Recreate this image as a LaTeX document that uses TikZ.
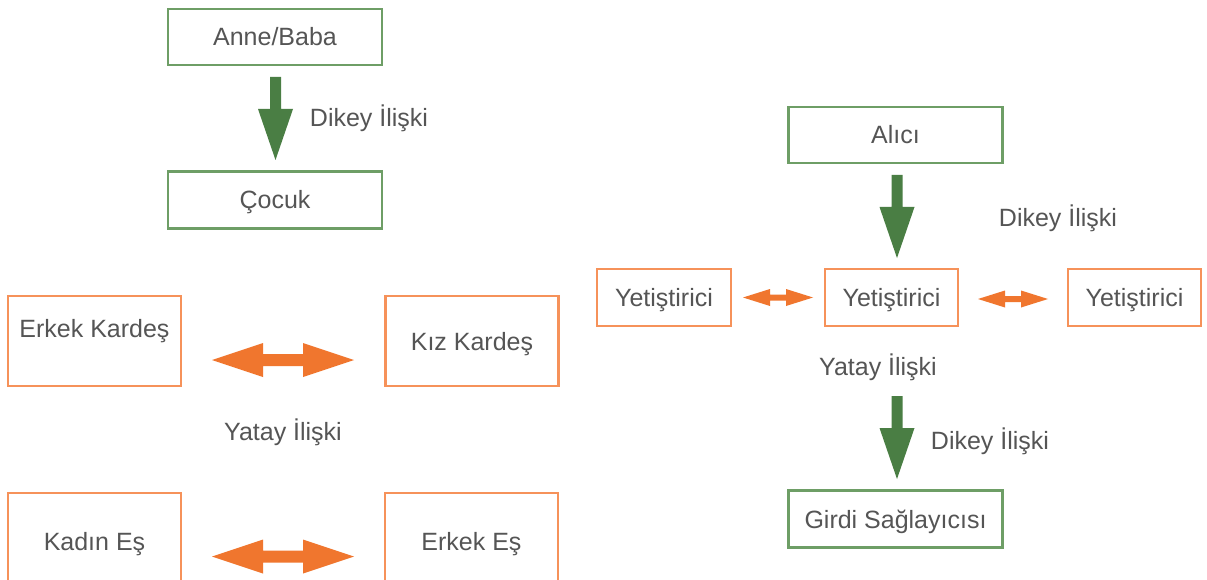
\documentclass[tikz,border=0pt]{standalone}
\usepackage{fontspec}
\setmainfont{Liberation Sans}
\definecolor{gline}{HTML}{6E9E66}
\definecolor{garr}{HTML}{4A7E44}
\definecolor{oline}{HTML}{F6925A}
\definecolor{oarr}{HTML}{F0762E}
\definecolor{txt}{HTML}{555555}
\newcommand\greenarrow[2]{% x, ytop
  \fill[garr] ({#1-5.5},{#2}) -- ({#1+5.5},{#2}) -- ({#1+5.5},{#2+32}) -- ({#1+17.5},{#2+32})
    -- ({#1},{#2+83}) -- ({#1-17.5},{#2+32}) -- ({#1-5.5},{#2+32}) -- cycle;}
\newcommand\orangearrow[6]{% x1, x2, y, headlen, headhalf, shafthalf
  \fill[oarr] ({#1},{#3}) -- ({#1+#4},{#3-#5}) -- ({#1+#4},{#3-#6}) -- ({#2-#4},{#3-#6})
    -- ({#2-#4},{#3-#5}) -- ({#2},{#3}) -- ({#2-#4},{#3+#5}) -- ({#2-#4},{#3+#6})
    -- ({#1+#4},{#3+#6}) -- ({#1+#4},{#3+#5}) -- cycle;}
\begin{document}
\begin{tikzpicture}[x=1pt,y=-1pt,
  every node/.style={font=\fontsize{25}{29}\selectfont, text=txt},
  tx/.style={text height=18pt, text depth=0pt},
  gbox/.style={tx, draw=gline, line width=2.5pt, rectangle, minimum width=214pt, minimum height=56pt, inner sep=0pt},
  obox/.style={tx, draw=oline, line width=2.5pt, rectangle, inner sep=0pt},
  lbl/.style={tx, inner sep=0pt}]
\clip (0,0) rectangle (1207,580);
\fill[white] (0,0) rectangle (1207,580);
% left top
\node[gbox] (ab) at (275,37) {Anne/Baba};
\node[gbox, minimum height=57pt] (coc) at (275,200) {Çocuk};
\greenarrow{275.5}{77}
\node[lbl] (d1) at (369,118) {Dikey İlişki};
% left siblings
\node[obox, minimum width=173pt, minimum height=90pt] (ek) at (94.5,341) {};
\node[lbl] (ekt) at (94.5,328) {Erkek Kardeş};
\node[obox, minimum width=173pt, minimum height=90pt] (kk) at (472,341) {Kız Kardeş};
\orangearrow{212}{354}{360}{51}{17}{6}
\node[lbl] (y1) at (283,431) {Yatay İlişki};
\node[obox, minimum width=173pt, minimum height=97pt] (ke) at (94.5,541.5) {Kadın Eş};
\node[obox, minimum width=173pt, minimum height=97pt] (ee) at (471.5,541.5) {Erkek Eş};
\orangearrow{212}{354}{556.5}{51}{17}{6}
% right
\node[gbox] (al) at (895.5,135) {Alıcı};
\greenarrow{897}{175}
\node[lbl] (d2) at (1058,217) {Dikey İlişki};
\node[obox, minimum width=134pt, minimum height=57pt] (y1b) at (664,297.5) {Yetiştirici};
\node[obox, minimum width=133pt, minimum height=57pt] (y2b) at (891.5,297.5) {Yetiştirici};
\node[obox, minimum width=133pt, minimum height=57pt] (y3b) at (1134.5,297.5) {Yetiştirici};
\orangearrow{743}{813}{297.5}{27}{8.5}{3}
\orangearrow{978}{1048}{299}{27}{8.5}{3}
\node[lbl] (y2) at (878,366) {Yatay İlişki};
\greenarrow{897}{396}
\node[lbl] (d3) at (990,440) {Dikey İlişki};
\node[gbox, minimum height=57pt] (gs) at (895.5,519) {Girdi Sağlayıcısı};
\end{tikzpicture}
\end{document}
